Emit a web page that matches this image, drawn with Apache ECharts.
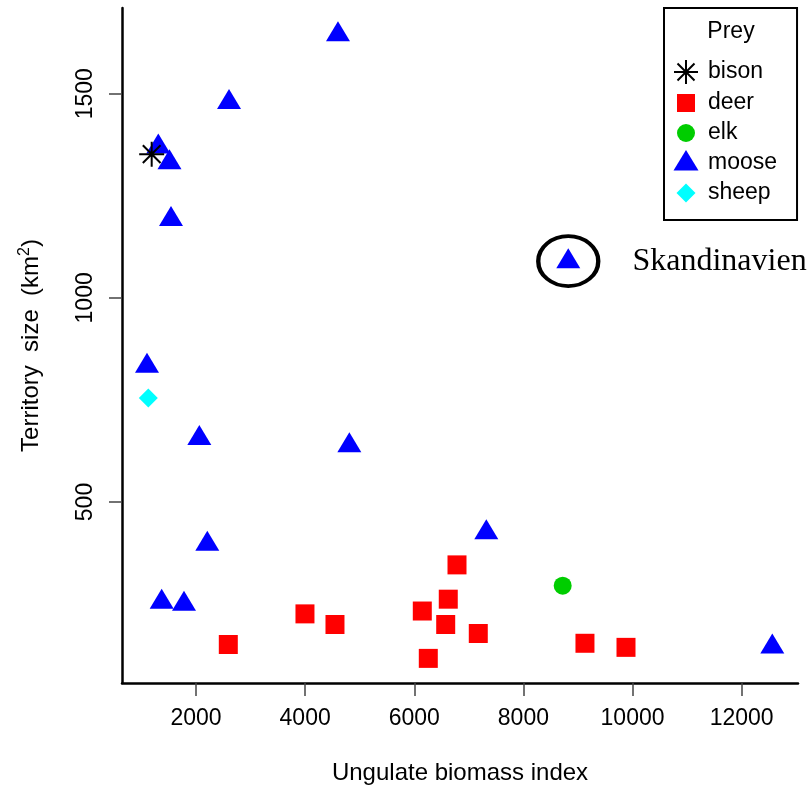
<!DOCTYPE html>
<html>
<head>
<meta charset="utf-8">
<script src="https://cdn.jsdelivr.net/npm/echarts@6/dist/echarts.min.js"></script>
<style>
    html, body { margin: 0; padding: 0; background: #fff; }
    #chart { width: 809px; height: 787px; }
</style>
</head>
<body>
<div id="chart"></div>
<script>
const xTicks = [2000, 4000, 6000, 8000, 10000, 12000];
const yTicks = [500, 1000, 1500];

// [ungulate biomass index, territory size km2]
const bison = [[1188, 1352]];
const deer = [
    [2592, 151], [3997, 226], [4547, 200], [6147, 233], [6623, 262], [6783, 346],
    [6576, 200], [6257, 117], [7173, 178], [9128, 154], [9880, 144]
];
const elk = [[8720, 295]];
const skandinavien = [8822, 1090];
const moose = [
    [4602, 1646], [2605, 1480], [1309, 1371], [1514, 1332], [1542, 1193], skandinavien,
    [1102, 834], [2061, 657], [4810, 639], [2207, 398], [7320, 426], [1371, 256],
    [1780, 251], [12561, 146]
];
const sheep = [[1126, 755]];

const font = 'Liberation Sans';
const asterisk = 'path://M12,0V24M0,12H24M3.5,3.5L20.5,20.5M3.5,20.5L20.5,3.5';

const chartDom = document.getElementById('chart');
const myChart = echarts.init(chartDom, null, {renderer: 'canvas'});

const option = {
    animation: false,
    textStyle: {fontFamily: font},
    grid: {left: 122, top: 8, width: 676, height: 675, outerBoundsMode: 'none'},
    graphic: [
        {
            type: 'text',
            x: 731,
            y: 32,
            style: {text: 'Prey', fontSize: 23, fontFamily: font, fill: '#000', align: 'center', verticalAlign: 'middle'}
        }
    ],
    legend: {
        orient: 'vertical',
        left: 664,
        top: 8,
        padding: [50, 20, 14, 8],
        itemWidth: 34,
        itemHeight: 26,
        itemGap: 4,
        borderColor: '#000',
        borderWidth: 2,
        selectedMode: false,
        textStyle: {fontSize: 23, color: '#000', fontFamily: font},
        data: [
            {name: 'bison', icon: 'path://M0,0M26,26M13,1V25M1,13H25M4.5,4.5L21.5,21.5M4.5,21.5L21.5,4.5',
                itemStyle: {color: '#000', borderColor: '#000', borderWidth: 2}},
            {name: 'deer', icon: 'path://M0,0M26,26M4,4H22V22H4Z'},
            {name: 'elk', icon: 'path://M0,0M26,26M4,13A9,9,0,1,1,22,13A9,9,0,1,1,4,13Z'},
            {name: 'moose', icon: 'path://M0,0M26,26M13,0L25.5,20.5H0.5Z'},
            {name: 'sheep', icon: 'path://M0,0M26,26M13,3.5L22.5,13L13,22.5L3.5,13Z'}
        ]
    },
    xAxis: {
        type: 'value',
        min: 644,
        max: 13032,
        name: 'Ungulate biomass index',
        nameLocation: 'middle',
        nameGap: 78,
        nameTextStyle: {fontSize: 24, color: '#000', fontFamily: font},
        splitLine: {show: false},
        axisLine: {onZero: false, lineStyle: {color: '#000', width: 2.5}},
        axisTick: {customValues: xTicks, length: 13, lineStyle: {color: '#444', width: 1.5}},
        axisLabel: {
            customValues: xTicks,
            margin: 24,
            fontSize: 23,
            color: '#000',
            formatter: v => String(v)
        }
    },
    yAxis: {
        type: 'value',
        min: 56.7,
        max: 1710,
        name: '{t|Territory  size  (km}{s|2}{t|)}',
        nameLocation: 'middle',
        nameGap: 77,
        nameRotate: 90,
        nameTextStyle: {
            rich: {
                t: {fontSize: 24, color: '#000', fontFamily: font, lineHeight: 28},
                s: {fontSize: 16, color: '#000', fontFamily: font, verticalAlign: 'top'}
            }
        },
        splitLine: {show: false},
        axisLine: {onZero: false, lineStyle: {color: '#000', width: 2.5}},
        axisTick: {customValues: yTicks, length: 13, lineStyle: {color: '#444', width: 1.5}},
        axisLabel: {
            customValues: yTicks,
            rotate: 90,
            margin: 25,
            fontSize: 23,
            color: '#000',
            formatter: v => String(v)
        }
    },
    series: [
        {
            name: 'deer',
            type: 'scatter',
            data: deer,
            symbol: 'rect',
            symbolSize: 19,
            itemStyle: {color: '#FF0000', opacity: 1}
        },
        {
            name: 'elk',
            type: 'scatter',
            data: elk,
            symbol: 'circle',
            symbolSize: 18,
            itemStyle: {color: '#00CD00', opacity: 1}
        },
        {
            name: 'moose',
            type: 'scatter',
            data: moose,
            symbol: 'triangle',
            symbolSize: [24, 20],
            symbolOffset: [0, -3],
            itemStyle: {color: '#0000FF', opacity: 1}
        },
        {
            name: 'sheep',
            type: 'scatter',
            data: sheep,
            symbol: 'diamond',
            symbolSize: 19,
            itemStyle: {color: '#00FFFF', opacity: 1}
        },
        {
            name: 'bison',
            type: 'scatter',
            data: bison,
            symbol: asterisk,
            symbolSize: 25,
            z: 5,
            itemStyle: {color: '#000', borderColor: '#000', borderWidth: 2, opacity: 1}
        },
        {
            name: 'Skandinavien',
            type: 'scatter',
            data: [skandinavien],
            symbol: 'circle',
            symbolSize: [60, 50],
            z: 6,
            itemStyle: {color: 'rgba(0,0,0,0)', borderColor: '#000', borderWidth: 4, opacity: 1},
            label: {
                show: true,
                position: 'right',
                distance: 32,
                formatter: 'Skandinavien',
                fontFamily: 'Liberation Serif',
                fontSize: 32,
                color: '#000'
            },
            silent: true
        }
    ]
};
myChart.setOption(option);

window.addEventListener('resize', function () {
    myChart.resize();
});
</script>
</body>
</html>
